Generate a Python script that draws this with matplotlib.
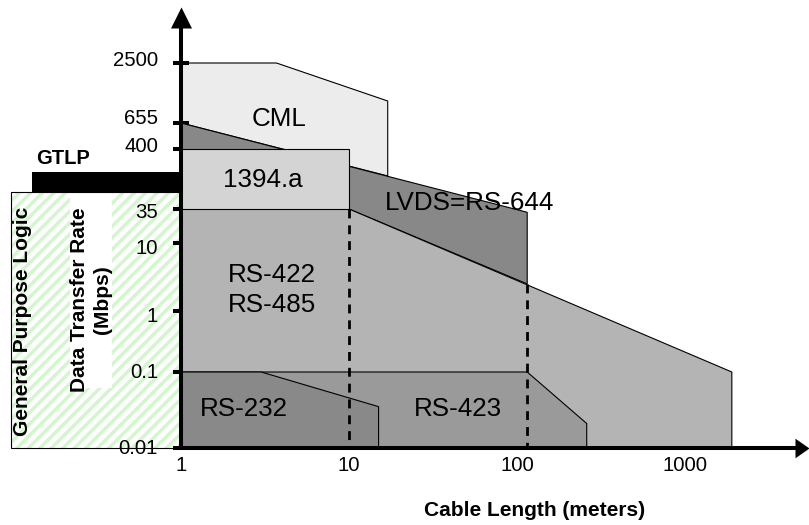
import numpy as np
import matplotlib
matplotlib.use('Agg')
import matplotlib.pyplot as plt
from matplotlib.patches import Polygon, Rectangle
from matplotlib.lines import Line2D
from matplotlib.path import Path
from matplotlib.ticker import NullLocator
from matplotlib.transforms import ScaledTranslation

plt.rcParams['font.family'] = ['Liberation Sans', 'DejaVu Sans']

# ---------------- data ----------------
y_ticks = [0.01, 0.1, 1, 10, 35, 400, 655, 2500]
y_tick_labels = ['0.01', '0.1', '1', '10', '35', '400', '655', '2500']
x_ticks = [1, 10, 100, 1000]
x_tick_labels = ['1', '10', '100', '1000']

cml_x = [1, 3.7, 17, 17, 1]
cml_y = [2500, 2500, 1070, 134, 655]
lvds_x = [1, 115, 115, 10, 1]
lvds_y = [655, 31, 2.5, 35, 35]
rs422_x = [1, 10, 1900, 1900, 1]
rs422_y = [35, 35, 0.1, 0.01, 0.01]
ieee1394_x = [1, 10, 10, 1]
ieee1394_y = [400, 400, 35, 35]
rs423_x = [1, 115, 260, 260, 1]
rs423_y = [0.1, 0.1, 0.021, 0.01, 0.01]
rs232_x = [1, 3, 15, 15, 1]
rs232_y = [0.1, 0.1, 0.035, 0.01, 0.01]
dash10_x = [10, 10]
dash10_y = [35, 0.01]
dash115_x = [115, 115]
dash115_y = [2.5, 0.01]

# ---------------- layout ----------------
W, H = 809, 525
fig = plt.figure(figsize=(W / 100, H / 100), dpi=100)

def fx(px):
    return px / W

def fy(py):
    return 1 - py / H

AX_L, AX_R, AX_B, AX_T = 181, 795, 448, 63
DECADE_PX = 168
# vertical scale of the original drawing is not a true log scale:
# screen position (px above x-axis) of each labelled rate
Y_POS = np.array([0, 76, 137, 205, 239, 299, 325, 385], dtype=float)
Y_LOG = np.log10(np.array(y_ticks, dtype=float))
# small vertical nudges (px, + = up) of the y tick labels as drawn in the original
Y_LABEL_NUDGE = [1, 2, -3, -3, -2, 5, 6, 4]

def y_fwd(v):
    v = np.asarray(v, dtype=float)
    lv = np.log10(np.clip(v, 1e-12, None))
    return np.interp(lv, Y_LOG, Y_POS)

def y_inv(p):
    p = np.asarray(p, dtype=float)
    return 10 ** np.interp(p, Y_POS, Y_LOG)

# decoration layer (pixel coords, y downward)
deco = fig.add_axes([0, 0, 1, 1], zorder=0)
deco.set_xlim(0, W)
deco.set_ylim(H, 0)
deco.axis('off')

ax = fig.add_axes([fx(AX_L), fy(AX_B), (AX_R - AX_L) / W, (AX_B - AX_T) / H], zorder=1)
ax.patch.set_facecolor('none')
ax.set_xscale('log')
ax.set_xlim(1, 10 ** ((AX_R - AX_L) / DECADE_PX))
ax.set_yscale('function', functions=(y_fwd, y_inv))
ax.set_ylim(0.01, 2500)
for s in ax.spines.values():
    s.set_visible(False)

# ----- General purpose logic box with green stripes -----
gpl = Rectangle((11, 192), AX_L - 11, 448 - 192, facecolor='white', edgecolor='none', zorder=1)
deco.add_patch(gpl)
for x0 in np.arange(11 - 270, AX_L + 20, 11.5):
    ln = Line2D([x0, x0 + 280], [448, 448 - 280], color='#d4f6ce', lw=2.5, zorder=2)
    deco.add_line(ln)
    ln.set_clip_path(gpl)
deco.add_patch(Rectangle((70, 192), 42, 196, facecolor='white', edgecolor='none', zorder=3))
deco.add_patch(Rectangle((11, 192), AX_L - 11, 448 - 192, facecolor='none', edgecolor='black', lw=0.8, zorder=4))
deco.add_patch(Rectangle((32, 172), AX_L - 32, 21, facecolor='black', edgecolor='none', zorder=4))

deco.text(63, 159, 'GTLP', fontsize=14.5, fontweight='bold', ha='center', va='center', zorder=5)
deco.text(23, 321, 'General Purpose Logic', fontsize=15, fontweight='bold', rotation=90,
          ha='center', va='center', zorder=5)
deco.text(91, 300, 'Data Transfer Rate\n(Mbps)', fontsize=15, fontweight='bold', rotation=90,
          ha='center', va='center', multialignment='center', linespacing=1.25, zorder=5)

# ----- regions -----
def poly(xs, ys, color, z):
    p = Polygon(np.column_stack([xs, ys]), closed=True, facecolor=color, edgecolor='black',
                lw=0.8, zorder=z, clip_on=False)
    ax.add_patch(p)

poly(cml_x, cml_y, '#ececec', 1)
poly(lvds_x, lvds_y, '#888888', 2)
poly(rs422_x, rs422_y, '#b4b4b4', 3)
poly(ieee1394_x, ieee1394_y, '#d4d4d4', 4)
poly(rs423_x, rs423_y, '#9a9a9a', 5)
poly(rs232_x, rs232_y, '#898989', 6)

ax.plot(dash10_x, dash10_y, color='black', lw=2, ls=(0, (3.2, 2.5)), zorder=7)
ax.plot(dash115_x, dash115_y, color='black', lw=2, ls=(0, (3.2, 2.5)), zorder=7)

# ----- axes with arrows -----
ytop = (AX_B - 28) / (AX_B - AX_T)
ax.plot([0, 1], [0, 0], transform=ax.transAxes, color='black', lw=2.9, clip_on=False,
        solid_capstyle='projecting', zorder=20)
ax.plot([0, 0], [0, ytop], transform=ax.transAxes, color='black', lw=2.9, clip_on=False,
        solid_capstyle='butt', zorder=20)
head_x = Path([(0, -0.7), (1, 0), (0, 0.7), (0, -0.7)],
              [Path.MOVETO, Path.LINETO, Path.LINETO, Path.CLOSEPOLY])
head_y = Path([(-0.5, 0), (0, 1), (0.5, 0), (-0.5, 0)],
              [Path.MOVETO, Path.LINETO, Path.LINETO, Path.CLOSEPOLY])
ax.plot([1], [0], transform=ax.transAxes, marker=head_x, markersize=28 * 0.72,
        color='black', markeredgewidth=0, clip_on=False, zorder=21)
ax.plot([0], [ytop], transform=ax.transAxes, marker=head_y, markersize=42 * 0.72,
        color='black', markeredgewidth=0, clip_on=False, zorder=21)

ax.set_yticks(y_ticks, y_tick_labels)
ax.set_xticks(x_ticks, x_tick_labels)
ax.xaxis.set_minor_locator(NullLocator())
ax.yaxis.set_minor_locator(NullLocator())
ax.tick_params(axis='y', direction='inout', length=12.2, width=2.9, pad=10.5,
               labelsize=14.7, color='black')
ax.tick_params(axis='x', length=0, pad=5.5, labelsize=14.7)

for tick, dy in zip(ax.yaxis.get_major_ticks(), Y_LABEL_NUDGE):
    lab = tick.label1
    lab.set_transform(lab.get_transform() + ScaledTranslation(0, dy / 100, fig.dpi_scale_trans))

# ----- region labels -----
def label(px, py, s, **kw):
    fig.text(fx(px), fy(py), s, fontsize=18.7, ha='center', va='center', zorder=30, **kw)

label(279, 119, 'CML')
label(263, 180, '1394.a')
label(470, 203, 'LVDS=RS-644')
label(272, 290, 'RS-422\nRS-485', linespacing=1.3)
label(244, 409, 'RS-232')
label(458, 409, 'RS-423')

fig.text(fx(535), fy(510), 'Cable Length (meters)', fontsize=15, fontweight='bold',
         ha='center', va='center')

fig.savefig('out.png', dpi=100)
